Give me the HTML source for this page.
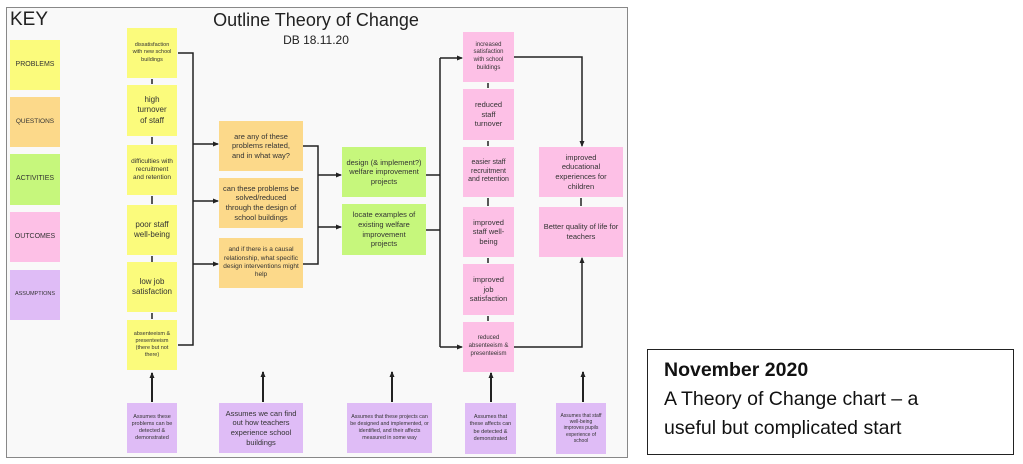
<!DOCTYPE html>
<html><head><meta charset="utf-8"><style>
body{margin:0;width:1023px;height:464px;background:#fff;position:relative;overflow:hidden;font-family:"Liberation Sans",sans-serif;}
#frame{position:absolute;left:6px;top:7px;width:620px;height:449px;background:#f9f9f9;border:1.5px solid #888;}
.b{position:absolute;display:flex;align-items:center;justify-content:center;text-align:center;color:#333;line-height:1.28;box-sizing:border-box;padding:2px 6px;}
.y{background:#fbfb7c;}.o{background:#fcd98a;}.g{background:#c6f77c;}.p{background:#fdc0e6;}.v{background:#dfbcf6;}
svg{position:absolute;left:0;top:0;}
</style></head><body>
<div id="frame"></div>
<div style="position:absolute;left:10px;top:9px;font-size:19px;color:#222;">KEY</div>
<div style="position:absolute;left:200px;width:232px;top:10px;text-align:center;font-size:18px;color:#222;">Outline Theory of Change</div>
<div style="position:absolute;left:200px;width:232px;top:33px;text-align:center;font-size:12px;color:#222;">DB 18.11.20</div>

<div class="b y" style="left:10px;top:40px;width:50px;height:50px;font-size:7px;padding:0;">PROBLEMS</div>
<div class="b o" style="left:10px;top:97px;width:50px;height:50px;font-size:6.5px;padding:0;">QUESTIONS</div>
<div class="b g" style="left:10px;top:154px;width:50px;height:51px;font-size:7px;padding:0;">ACTIVITIES</div>
<div class="b p" style="left:10px;top:212px;width:50px;height:50px;font-size:7px;padding:0;">OUTCOMES</div>
<div class="b v" style="left:10px;top:270px;width:50px;height:50px;font-size:5.5px;padding:0;">ASSUMPTIONS</div>

<div class="b y" style="left:127px;top:28px;width:50px;height:50px;font-size:5.5px;padding:2px 4px;">dissatisfaction with new school buildings</div>
<div class="b y" style="left:127px;top:85px;width:50px;height:51px;font-size:8px;">high turnover of staff</div>
<div class="b y" style="left:127px;top:145px;width:50px;height:50px;font-size:6.5px;padding:2px 4px;">difficulties with recruitment and retention</div>
<div class="b y" style="left:127px;top:205px;width:50px;height:50px;font-size:8px;">poor staff well-being</div>
<div class="b y" style="left:127px;top:262px;width:50px;height:50px;font-size:8px;">low job satisfaction</div>
<div class="b y" style="left:127px;top:320px;width:50px;height:50px;font-size:5.5px;padding:2px 4px;">absenteeism &amp; presenteeism (there but not there)</div>

<div class="b o" style="left:219px;top:121px;width:84px;height:50px;font-size:7.5px;padding:2px 10px;">are any of these problems related, and in what way?</div>
<div class="b o" style="left:219px;top:178px;width:84px;height:50px;font-size:7.5px;padding:2px 4px;">can these problems be solved/reduced through the design of school buildings</div>
<div class="b o" style="left:219px;top:238px;width:84px;height:50px;font-size:6.5px;padding:2px 4px;">and if there is a causal relationship, what specific design interventions might help</div>

<div class="b g" style="left:342px;top:147px;width:84px;height:50px;font-size:7.5px;padding:2px 3px;">design (&amp; implement?) welfare improvement projects</div>
<div class="b g" style="left:342px;top:204px;width:84px;height:51px;font-size:7.5px;padding:2px 8px;">locate examples of existing welfare improvement projects</div>

<div class="b p" style="left:463px;top:32px;width:51px;height:50px;font-size:6px;">increased satisfaction with school buildings</div>
<div class="b p" style="left:463px;top:89px;width:51px;height:51px;font-size:7.5px;padding:2px 9px;">reduced staff turnover</div>
<div class="b p" style="left:463px;top:147px;width:51px;height:50px;font-size:7px;padding:2px 5px;">easier staff recruitment and retention</div>
<div class="b p" style="left:463px;top:207px;width:51px;height:50px;font-size:7.5px;">improved staff well-being</div>
<div class="b p" style="left:463px;top:264px;width:51px;height:51px;font-size:7.5px;padding:2px 8px;">improved job satisfaction</div>
<div class="b p" style="left:463px;top:322px;width:51px;height:50px;font-size:6px;padding:2px 3px;">reduced absenteeism &amp; presenteeism</div>

<div class="b p" style="left:539px;top:147px;width:84px;height:50px;font-size:7.5px;padding:2px 12px;">improved educational experiences for children</div>
<div class="b p" style="left:539px;top:207px;width:84px;height:50px;font-size:7.5px;padding:2px 4px;">Better quality of life for teachers</div>

<div class="b v" style="left:127px;top:403px;width:50px;height:50px;font-size:5.5px;padding:2px 4px;">Assumes these problems can be detected &amp; demonstrated</div>
<div class="b v" style="left:219px;top:403px;width:84px;height:50px;font-size:7.5px;padding:2px 4px;">Assumes we can find out how teachers experience school buildings</div>
<div class="b v" style="left:347px;top:403px;width:85px;height:50px;font-size:5.3px;padding:2px 3px;">Assumes that these projects can be designed and implemented, or identified, and their affects measured in some way</div>
<div class="b v" style="left:465px;top:403px;width:51px;height:51px;font-size:5.5px;padding:2px 3px;">Assumes that these affects can be detected &amp; demonstrated</div>
<div class="b v" style="left:556px;top:403px;width:50px;height:51px;font-size:5px;padding:2px 4px;">Assumes that staff well-being improves pupils experience of school</div>

<div style="position:absolute;left:647px;top:349px;width:367px;height:106px;border:1.5px solid #222;box-sizing:border-box;padding:6px 0 0 16px;font-size:19.5px;line-height:29px;color:#111;">
<b>November 2020</b><br>A Theory of Change chart – a<br>useful but complicated start</div>

<svg width="1023" height="464">
<defs><marker id="a" markerWidth="6" markerHeight="6" refX="5" refY="3" orient="auto" markerUnits="userSpaceOnUse"><path d="M0,0.5 L6,3 L0,5.5z" fill="#222"/></marker></defs>
<g stroke="#222" stroke-width="1.5" fill="none">
<path d="M152,79v5M152,137v7M152,196v8M152,256v6M152,313v6"/>
<path d="M178,53H193V345H178"/>
<path d="M193,144H218" marker-end="url(#a)"/>
<path d="M193,201H218" marker-end="url(#a)"/>
<path d="M193,264H218" marker-end="url(#a)"/>
<path d="M303,146H318V264H303"/>
<path d="M318,175H341" marker-end="url(#a)"/>
<path d="M318,227H341" marker-end="url(#a)"/>
<path d="M426,175H440M426,230H440M440,58V347"/>
<path d="M440,58H462" marker-end="url(#a)"/>
<path d="M440,347H462" marker-end="url(#a)"/>
<path d="M488,83v5M488,141v5M488,198v8M488,258v5M488,316v5"/>
<path d="M514,57H582V146" marker-end="url(#a)"/>
<path d="M514,347H582V258" marker-end="url(#a)"/>
<path d="M581,198v8"/>
</g>
<g stroke="#222" stroke-width="2" fill="none">
<path d="M152,402V373" marker-end="url(#a)"/>
<path d="M263,402V372" marker-end="url(#a)"/>
<path d="M392,402V372" marker-end="url(#a)"/>
<path d="M491,402V373" marker-end="url(#a)"/>
<path d="M583,402V372" marker-end="url(#a)"/>
</g></svg>
</body></html>
